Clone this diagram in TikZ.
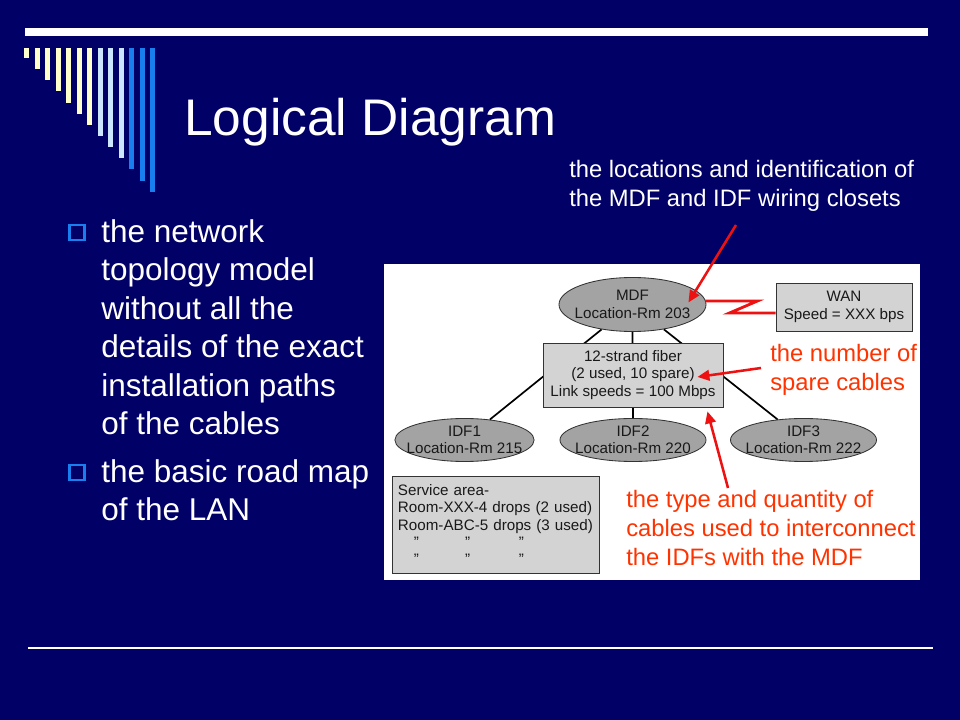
\documentclass[tikz,border=0pt]{standalone}
\usepackage{fontspec}
\setmainfont{Liberation Sans}
\usetikzlibrary{arrows.meta,shapes.geometric,calc}
\definecolor{slidebg}{HTML}{000066}
\definecolor{cream}{HTML}{FFFFCC}
\definecolor{paleblue}{HTML}{CCE6FF}
\definecolor{brightblue}{HTML}{1A7FEE}
\definecolor{notered}{HTML}{FF3300}
\definecolor{arrowred}{HTML}{EE1111}
\definecolor{closetgray}{HTML}{A3A3A3}
\definecolor{boxgray}{HTML}{D3D3D3}
\definecolor{inkgray}{HTML}{333333}
\newcommand{\titlesize}{\fontsize{36.6}{40}\selectfont}
\newcommand{\bodysize}{\fontsize{22.4}{27.3}\selectfont}
\newcommand{\notesize}{\fontsize{16.9}{20.8}\selectfont}
\newcommand{\diagsize}{\fontsize{10.8}{12.3}\selectfont}
\tikzset{
  closet/.style={ellipse, draw=inkgray, fill=closetgray, line width=0.6pt,
                 inner xsep=-0.3cm, inner ysep=-0.05cm,
                 align=center, font=\diagsize, text=black!90},
  infobox/.style={rectangle, draw=inkgray, fill=boxgray, line width=0.6pt, inner sep=0pt,
                  align=center, font=\diagsize, text=black!90},
  link/.style={draw=black, line width=1.2pt},
  wanlink/.style={draw=arrowred, line width=2pt, line join=miter},
  note/.style={font=\notesize, align=left, inner sep=0pt, anchor=base west},
  pointer/.style={-{Triangle[length=8.5pt,width=7.5pt]}, draw=arrowred, line width=1.8pt},
  bodytext/.style={font=\bodysize, text=white, align=left, inner sep=0pt, anchor=base west},
  bulletsq/.style={draw=brightblue, line width=2.1pt, minimum size=0.375cm, inner sep=0pt}
}
\begin{document}
\begin{tikzpicture}[x=0.025cm, y=-0.025cm]
  % slide frame
  \fill[slidebg] (0,0) rectangle (960,720);
  \fill[white] (25,28) rectangle (928,36);
  \foreach \i/\c in {0/cream,1/cream,2/cream,3/cream,4/cream,5/cream,6/cream,
                     7/paleblue,8/paleblue,9/paleblue,10/brightblue,11/brightblue,12/brightblue}
    \fill[\c] (24+10.5*\i,48) rectangle (29+10.5*\i,58+11.15*\i);
  \draw[white, line width=1.1pt] (28,648) -- (933,648);

  \node[font=\titlesize, text=white, anchor=base west, inner sep=0pt] (title) at (184,136) {Logical Diagram};

  % bullets (base = last line)
  \node[bulletsq] (sq1) at (77,232.5) {};
  \node[bodytext] (b1) at (101,434.5) {the network\\topology model\\without all the\\details of the exact\\installation paths\\of the cables};
  \node[bulletsq] (sq2) at (77,472.5) {};
  \node[bodytext] (b2) at (101,520.5) {the basic road map\\of the LAN};

  % diagram
  \fill[white] (384,264) rectangle (920,580);
  \node[closet, minimum width=3.675cm, minimum height=1.35cm] (mdf) at (632.5,304.5) {MDF\\Location-Rm 203};
  \node[closet, minimum width=3.48cm, minimum height=1.075cm] (idf1) at (464.5,440) {IDF1\\Location-Rm 215};
  \node[closet, minimum width=3.65cm, minimum height=1.075cm] (idf2) at (633,440) {IDF2\\Location-Rm 220};
  \node[closet, minimum width=3.65cm, minimum height=1.075cm] (idf3) at (803.5,440) {IDF3\\Location-Rm 222};
  \draw[link] (mdf) -- (idf1);
  \draw[link] (mdf) -- (idf3);
  \draw[link] (mdf.south) -- (idf2.north);
  \node[infobox, minimum width=4.5cm, minimum height=1.6cm] (fiber) at (633,375) {12-strand fiber\\(2 used, 10 spare)\\Link speeds = 100 Mbps};
  \node[infobox, minimum width=3.4cm, minimum height=1.2cm] (wan) at (844,307) {WAN\\Speed = XXX bps};
  \node[infobox, minimum width=5.175cm, minimum height=2.425cm, text width=4.875cm, align=left] (service) at (495.5,524.5)
    {Service area-\\Room-XXX-4 drops (2 used)\\Room-ABC-5 drops (3 used)\\
     \hspace*{0.4cm}"\hspace{1.15cm}"\hspace{1.22cm}"\\
     \hspace*{0.4cm}"\hspace{1.15cm}"\hspace{1.22cm}"};
  \coordinate (zigEnd) at ($(wan.west)+(0,6)$);
  \draw[wanlink] ($(mdf.east)+(-1,-3.5)$) -- ++(52,0) -- ++(-28,12) -- (zigEnd);

  % annotations (base = last line)
  \node[note, text=white] (locnote) at (569,207) {the locations and identification of\\the MDF and IDF wiring closets};
  \node[note, text=notered] (sparenote) at (770,391) {the number of\\spare cables};
  \node[note, text=notered] (typenote) at (626,566) {the type and quantity of\\cables used to interconnect\\the IDFs with the MDF};
  \coordinate (locTail) at (736,225);
  \coordinate (spareTail) at (761,368);
  \coordinate (typeTail) at (728,488);
  \draw[pointer] (locTail) -- ($(mdf.east)+(-18,-2)$);
  \draw[pointer] (spareTail) -- ($(fiber.east)+(-26,2)$);
  \draw[pointer] (typeTail) -- ($(fiber.south east)+(-16,4)$);
\end{tikzpicture}
\end{document}
